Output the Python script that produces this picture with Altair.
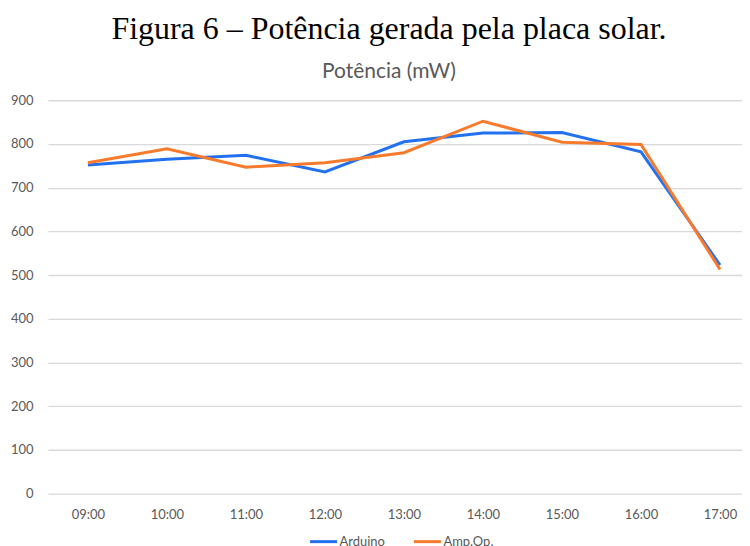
import altair as alt
import pandas as pd

hours = ["09:00", "10:00", "11:00", "12:00", "13:00", "14:00", "15:00", "16:00", "17:00"]
arduino = [752, 765, 774, 736, 805, 825, 826, 782, 523]
ampop = [757, 789, 747, 757, 780, 852, 804, 799, 513]
series = ["Arduino", "Amp.Op."]
colors = ["#2371EE", "#F77B2C"]
y_ticks = [0, 100, 200, 300, 400, 500, 600, 700, 800, 900]

df = pd.DataFrame({
    "hora": hours * 2,
    "valor": arduino + ampop,
    "serie": [series[0]] * len(hours) + [series[1]] * len(hours),
})

label_font = "Lato"
gray = "#595959"

chart = alt.Chart(df).mark_line(strokeWidth=3).encode(
    x=alt.X("hora:N", sort=hours,
            scale=alt.Scale(type="point", padding=0.392, align=0.645),
            axis=alt.Axis(title=None, labelAngle=0, domain=False, ticks=False,
                          labelColor=gray, labelFontSize=13, labelFont=label_font,
                          labelPadding=15)),
    y=alt.Y("valor:Q",
            scale=alt.Scale(domain=[0, 900], nice=False, zero=True),
            axis=alt.Axis(title=None, values=y_ticks, domain=False, ticks=False,
                          labelColor=gray, labelFontSize=13, labelFont=label_font,
                          labelPadding=15, gridColor="#D9D9D9", gridWidth=1.3)),
    color=alt.Color("serie:N", sort=series,
                    scale=alt.Scale(domain=series, range=colors),
                    legend=alt.Legend(title=None, orient="none", direction="horizontal",
                                      legendX=261, legendY=394 + 33, symbolType="stroke",
                                      symbolStrokeWidth=3, symbolSize=729,
                                      labelOffset=1, labelFont=label_font, labelFontSize=13,
                                      labelColor=gray, columnPadding=22)),
).properties(
    width=695,
    height=394,
    padding={"left": 2, "top": 5, "right": 0, "bottom": 0},
    title=alt.TitleParams(
        text="Figura 6 – Potência gerada pela placa solar.",
        subtitle="Potência (mW)",
        font="Liberation Serif", fontSize=32, fontWeight="normal", color="black",
        subtitleFont=label_font, subtitleFontSize=21, subtitleColor=gray,
        subtitlePadding=15, anchor="middle", dx=-6, offset=11,
    ),
).configure_view(stroke=None)

chart.save("out.html", embed_options={"renderer": "svg", "actions": False})
